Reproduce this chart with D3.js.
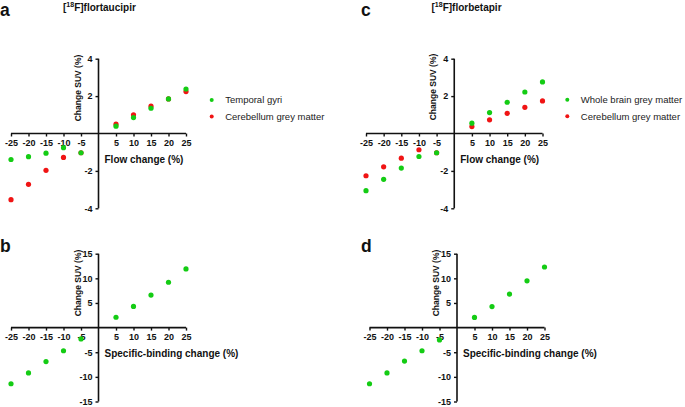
<!DOCTYPE html>
<html><head><meta charset="utf-8">
<script src="https://cdn.jsdelivr.net/npm/d3@7"></script>
<style>
body{margin:0;background:#fff;}
svg{display:block;font-family:"Liberation Sans",Arial,sans-serif;}
</style></head>
<body><svg id="c" width="685" height="407"></svg>
<script>
// ---- data ----
const changeLevels = [-25,-20,-15,-10,-5,5,10,15,20,25];
const xTicks = [-25,-20,-15,-10,-5,5,10,15,20,25];
const yTicksFlow = [-4,-2,2,4];
const yTicksBinding = [-15,-10,-5,5,10,15];

const aTemporalGyri  = [-1.39,-1.24,-1.05,-0.76,-1.03,0.39,0.85,1.35,1.85,2.38];
const aCerebellumGM  = [-3.54,-2.72,-1.97,-1.28,-1.03,0.50,1.00,1.46,1.85,2.24];
const cWholeBrainGM  = [-3.06,-2.45,-1.85,-1.23,-1.03,0.55,1.12,1.67,2.22,2.76];
const cCerebellumGM  = [-2.26,-1.78,-1.32,-0.87,-1.03,0.37,0.73,1.08,1.40,1.74];
const bTemporalGyri  = [-11.4,-9.2,-6.9,-4.7,-2.3,2.1,4.3,6.6,9.2,11.9];
const dWholeBrainGM  = [-11.4,-9.2,-6.8,-4.7,-2.5,2.06,4.27,6.8,9.5,12.3];

const GREEN = "#14cc14", RED = "#f01414";

const svg = d3.select("#c");

const panels = [
  {letter:"a", lx:0, ly:16, title:"flortaucipir", tx:63, xr:[11,186], yd:[-4,4], yr:[208.3,58.7], yt:yTicksFlow,
   xlab:"Flow change (%)", ylabY:88,
   series:[{name:"Cerebellum grey matter", v:aCerebellumGM, c:RED},{name:"Temporal gyri", v:aTemporalGyri, c:GREEN}],
   legend:{x:211.7, y:100, items:[{name:"Temporal gyri",c:GREEN},{name:"Cerebellum grey matter",c:RED}]}},
  {letter:"c", lx:361, ly:16, title:"florbetapir", tx:431.5, xr:[366,542.5], yd:[-4,4], yr:[208.3,58.7], yt:yTicksFlow,
   xlab:"Flow change (%)", ylabY:87,
   series:[{name:"Cerebellum grey matter", v:cCerebellumGM, c:RED},{name:"Whole brain grey matter", v:cWholeBrainGM, c:GREEN}],
   legend:{x:567.3, y:99.7, items:[{name:"Whole brain grey matter",c:GREEN},{name:"Cerebellum grey matter",c:RED}]}},
  {letter:"b", lx:0, ly:252, xr:[11,186], yd:[-15,15], yr:[401.5,253.7], yt:yTicksBinding,
   xlab:"Specific-binding change (%)", ylabY:283,
   series:[{name:"Temporal gyri", v:bTemporalGyri, c:GREEN}]},
  {letter:"d", lx:361, ly:252, xr:[369.5,544.5], yd:[-15,15], yr:[401.5,253.7], yt:yTicksBinding,
   xlab:"Specific-binding change (%)", ylabY:283,
   series:[{name:"Whole brain grey matter", v:dWholeBrainGM, c:GREEN}]}
];

panels.forEach(p => {
  const x = d3.scaleLinear().domain([-25,25]).range(p.xr);
  const y = d3.scaleLinear().domain(p.yd).range(p.yr);
  const g = svg.append("g");

  // panel letter
  g.append("text").attr("x", p.lx).attr("y", p.ly)
    .attr("font-size", 17.5).attr("font-weight", "bold").attr("fill", "#111").text(p.letter);

  // title
  if (p.title) {
    const t = g.append("text").attr("x", p.tx).attr("y", 11)
      .attr("font-size", 10).attr("font-weight", "bold").attr("fill", "#111");
    t.append("tspan").text("[");
    t.append("tspan").attr("font-size", 7).attr("dy", -4).text("18");
    t.append("tspan").attr("dy", 4).text("F]" + p.title);
  }

  const fmt = d => String(d);
  // x axis
  const xa = d3.axisBottom(x).tickValues(xTicks).tickSize(3).tickPadding(3).tickSizeOuter(0).tickFormat(fmt);
  const xg = g.append("g").attr("transform", `translate(0,${y(0)})`).call(xa);
  // y axis
  const ya = d3.axisLeft(y).tickValues(p.yt).tickSize(3).tickPadding(3).tickSizeOuter(0).tickFormat(fmt);
  const yg = g.append("g").attr("transform", `translate(${x(0)},0)`).call(ya);

  [xg, yg].forEach(a => {
    a.select(".domain").attr("stroke", "#111").attr("stroke-width", 1.6);
    a.selectAll(".tick line").attr("stroke", "#111").attr("stroke-width", 1.4);
    a.selectAll(".tick text").attr("fill", "#111").attr("font-size", 9).attr("font-weight", "bold")
      .attr("font-family", "'Liberation Sans',Arial,sans-serif");
  });
  xg.select(".domain").attr("d", `M${p.xr[0]},0H${p.xr[1]}`);
  yg.select(".domain").attr("d", `M0,${p.yr[1]}V${p.yr[0]}`);

  // axis titles
  g.append("text").attr("x", x(0) + 6).attr("y", y(0) + 29)
    .attr("font-size", 10).attr("font-weight", "bold").attr("fill", "#111").text(p.xlab);
  g.append("text").attr("transform", `translate(${x(0) - 18},${p.ylabY}) rotate(-90)`)
    .attr("text-anchor", "middle").attr("font-size", 8.5).attr("font-weight", "bold").attr("fill", "#111")
    .text("Change SUV (%)");

  // points
  p.series.forEach(s => {
    g.append("g").selectAll("circle").data(s.v).join("circle")
      .attr("cx", (d,i) => x(changeLevels[i])).attr("cy", d => y(d))
      .attr("r", 2.6).attr("fill", s.c);
  });

  // legend
  if (p.legend) {
    p.legend.items.forEach((it, i) => {
      const yy = p.legend.y + i * 16.5;
      g.append("circle").attr("cx", p.legend.x).attr("cy", yy).attr("r", 2).attr("fill", it.c);
      g.append("text").attr("x", p.legend.x + 13.5).attr("y", yy + 3.3)
        .attr("font-size", 9.5).attr("fill", "#222").text(it.name);
    });
  }
});
</script></body></html>
